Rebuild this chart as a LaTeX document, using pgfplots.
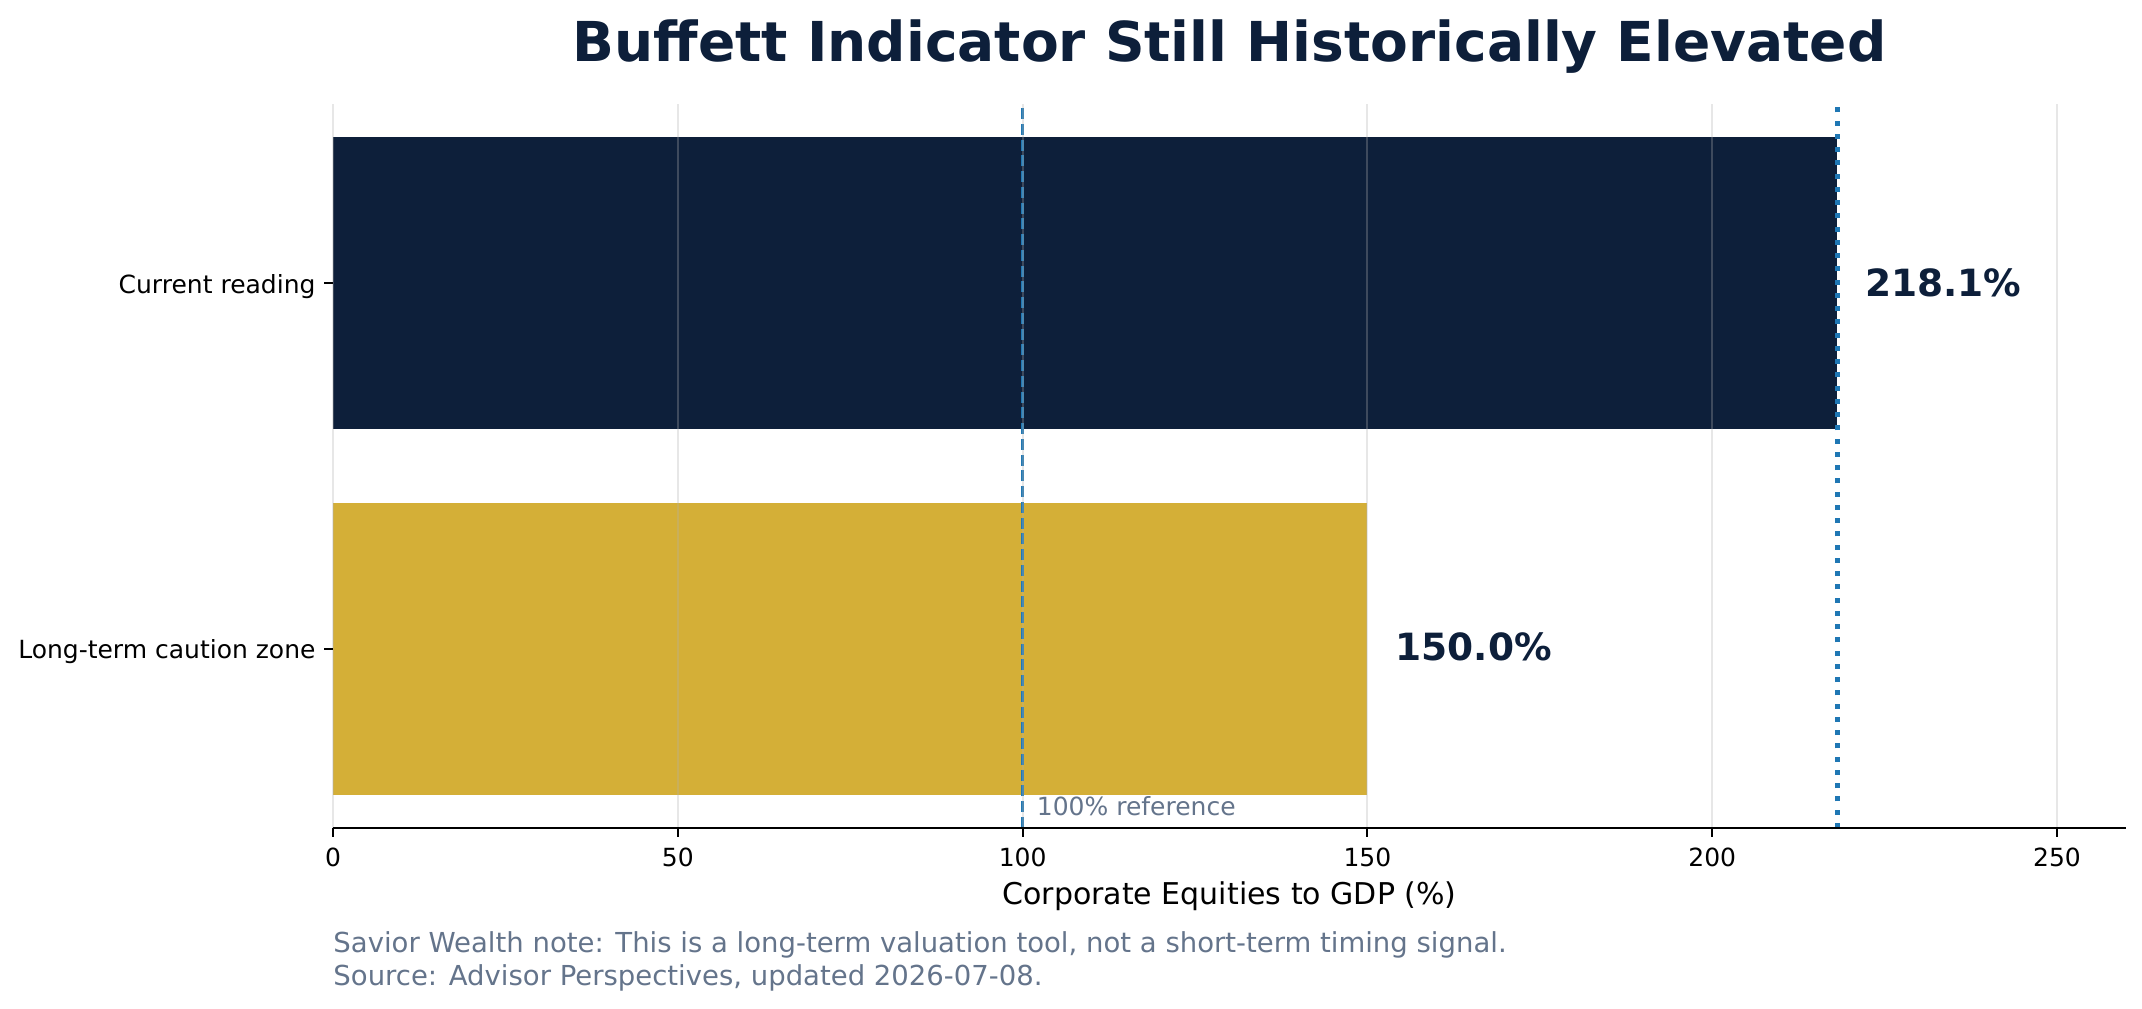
\documentclass[border=0pt]{standalone}
\usepackage{fontspec}
\setmainfont{DejaVu Sans}
\usepackage{pgfplots}
\pgfplotsset{compat=1.18}
\definecolor{navy}{HTML}{0D1F3A}
\definecolor{gold}{HTML}{D4AF37}
\definecolor{refblue}{HTML}{1F77B4}
\definecolor{slate}{HTML}{64748B}
\definecolor{gridgray}{HTML}{B0B0B0}

\begin{document}
\begin{tikzpicture}
\begin{axis}[
  name=ax,
  scale only axis,
  width=717.2pt, height=289.6pt,
  xmin=0, xmax=260, ymin=-0.49, ymax=1.49,
  axis x line*=bottom, axis y line*=left,
  axis line style={-, line width=0.8pt, black},
  y axis line style={draw=none},
  xtick={0,50,...,250},
  ytick={0,1},
  yticklabels={Long-term caution zone, Current reading},
  tick align=outside,
  major tick length=3.5pt,
  tick style={black, line width=0.8pt},
  xmajorgrids,
  grid style={gridgray, opacity=0.3, line width=0.8pt},
  axis on top,
  ticklabel style={font=\fontsize{10}{12}\selectfont, inner sep=0pt},
  yticklabel style={yshift=-1.3pt},
  xticklabel shift=4.3pt,
  yticklabel shift=3.3pt,
  /pgf/number format/assume math mode=true,
  clip=false,
  xlabel={Corporate Equities to GDP (\%)},
  xlabel style={font=\fontsize{12}{14}\selectfont, at={(axis description cs:0.5,0)}, anchor=base, yshift=-30.8pt, inner sep=0pt},
]
% bars
\addplot[xbar, bar width=0.8, bar shift=0pt, fill=navy, draw=none] coordinates {(218.1,1)};
\addplot[xbar, bar width=0.8, bar shift=0pt, fill=gold, draw=none] coordinates {(150,0)};
% reference lines
\addplot[refblue, line width=1.2pt, dash pattern=on 4.4pt off 1.9pt] coordinates {(100,-0.49) (100,1.49)};
\addplot[refblue, line width=2pt, dash pattern=on 2pt off 3.3pt] coordinates {(218.1,-0.49) (218.1,1.49)};
% value labels
\node[anchor=west, inner sep=0pt, text=navy, font=\fontsize{15}{18}\selectfont\bfseries] at (axis cs:222.1,1) {218.1\%};
\node[anchor=west, inner sep=0pt, text=navy, font=\fontsize{15}{18}\selectfont\bfseries] at (axis cs:154,0.005) {150.0\%};
\node[anchor=base west, inner sep=0pt, text=slate, font=\fontsize{10}{12}\selectfont] at (axis cs:102,-0.455) {100\% reference};
\end{axis}

\node[anchor=base, inner sep=0pt, text=navy, font=\fontsize{22}{26}\selectfont\bfseries]
  at ([shift={(358.6pt,306.4pt)}]ax.south west) {Buffett Indicator Still Historically Elevated};
\node[anchor=base west, inner sep=0pt, text=slate, font=\fontsize{11}{13}\selectfont]
  at ([shift={(0pt,-50pt)}]ax.south west) {Savior Wealth note: This is a long-term valuation tool, not a short-term timing signal.};
\node[anchor=base west, inner sep=0pt, text=slate, font=\fontsize{11}{13}\selectfont]
  at ([shift={(0pt,-63.2pt)}]ax.south west) {Source: Advisor Perspectives, updated 2026-07-08.};

\pgfresetboundingbox
\path[use as bounding box] ([shift={(-133.2pt,-72.4pt)}]ax.south west) rectangle ([shift={(723.6pt,331.2pt)}]ax.south west);
\end{tikzpicture}
\end{document}
